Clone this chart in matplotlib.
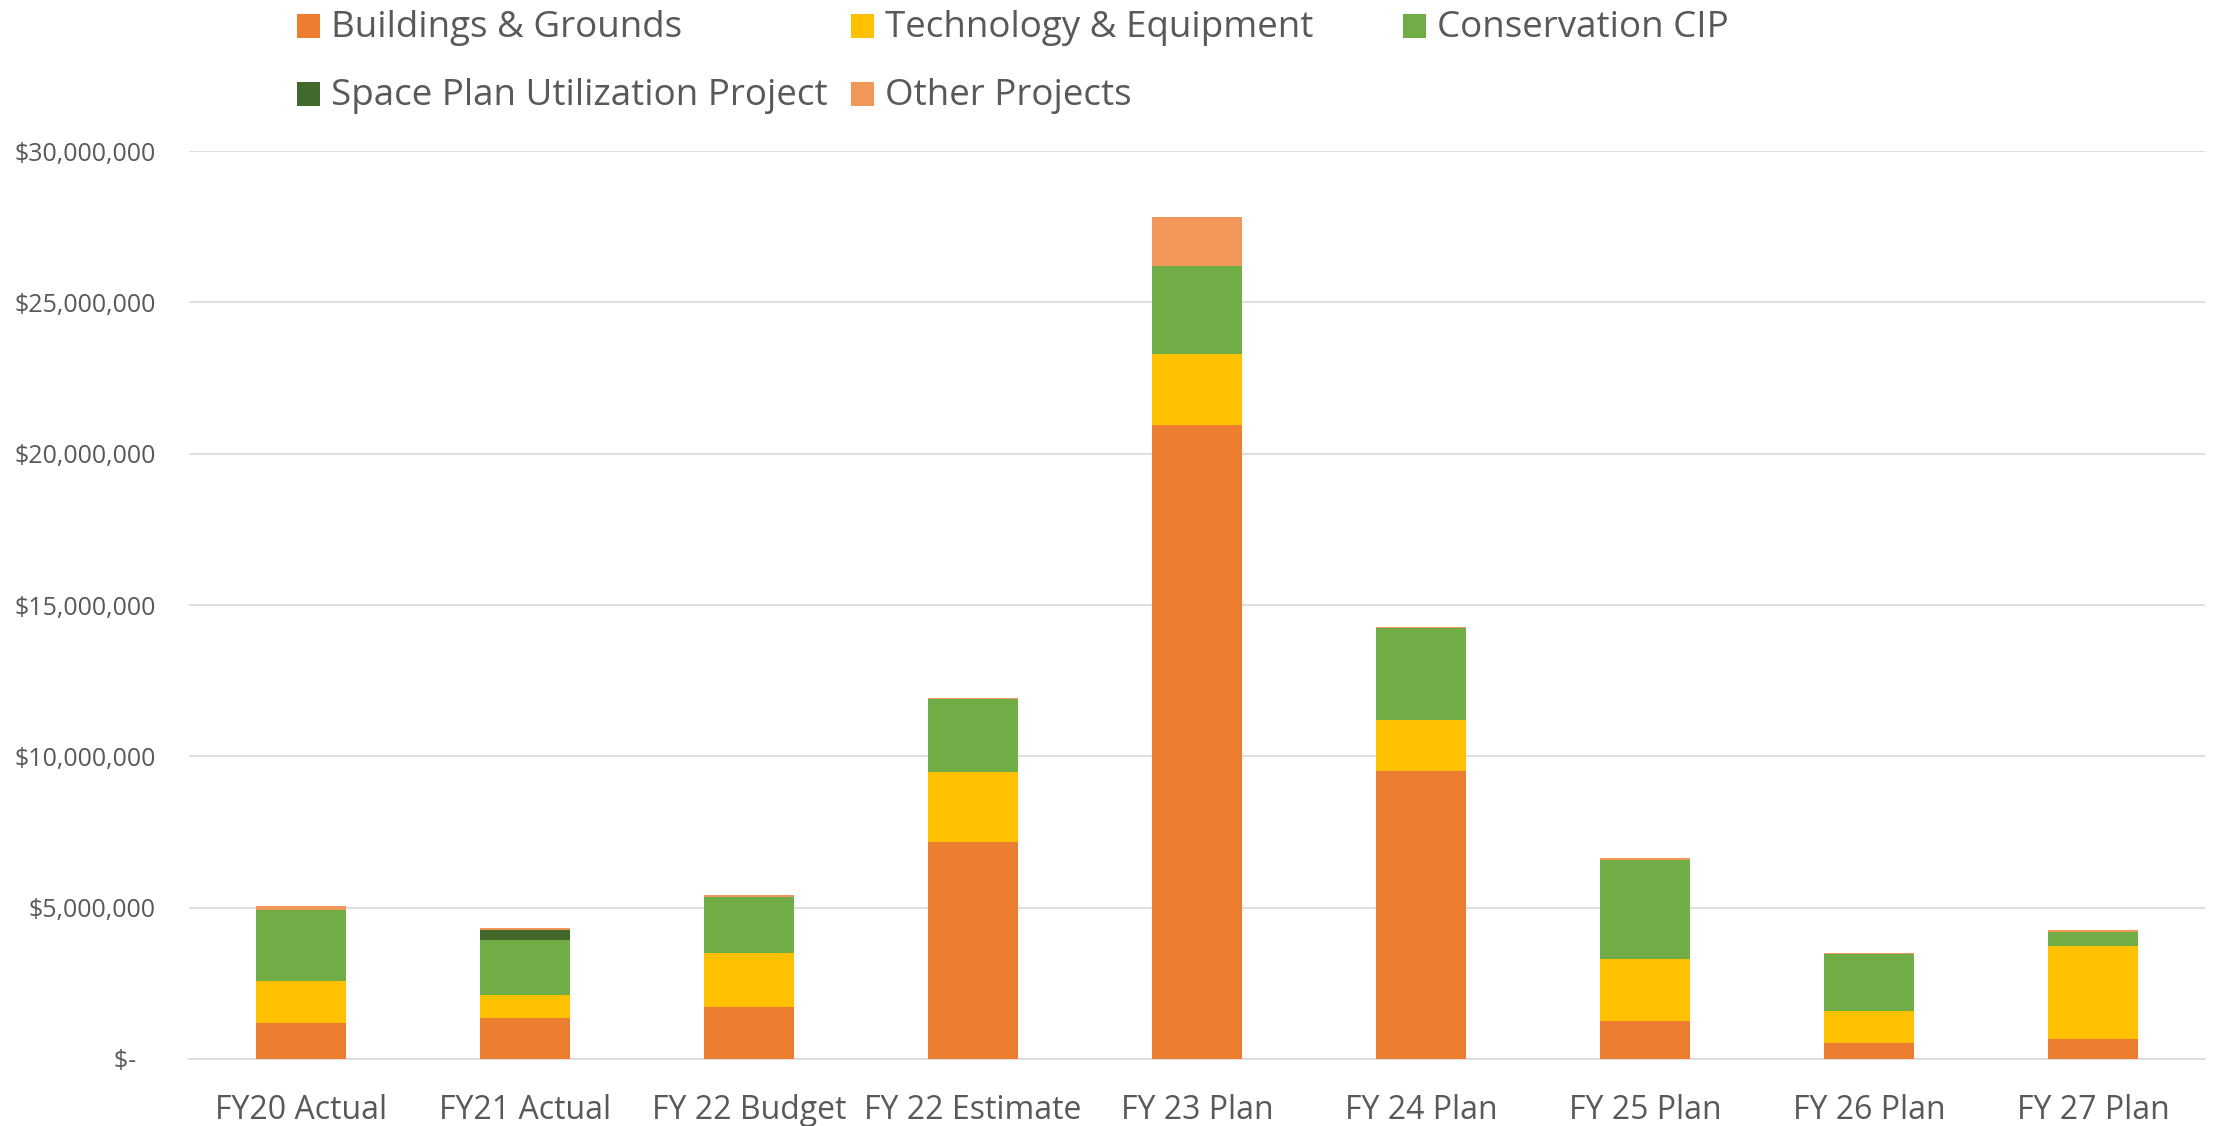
import numpy as np
import matplotlib
matplotlib.use("Agg")
import matplotlib.pyplot as plt
from matplotlib.patches import Rectangle
from matplotlib.ticker import FuncFormatter

plt.rcParams['font.family'] = ['Open Sans', 'DejaVu Sans']

# Capital spending by fiscal year (millions of dollars)
years = ["FY20 Actual", "FY21 Actual", "FY 22 Budget", "FY 22 Estimate", "FY 23 Plan",
         "FY 24 Plan", "FY 25 Plan", "FY 26 Plan", "FY 27 Plan"]
buildings = [1.19, 1.34, 1.72, 7.17, 20.95, 9.52, 1.24, 0.54, 0.65]
technology = [1.40, 0.79, 1.77, 2.32, 2.34, 1.68, 2.05, 1.06, 3.07]
conservation = [2.33, 1.81, 1.87, 2.41, 2.90, 3.03, 3.30, 1.86, 0.49]
space_plan = [0, 0.32, 0, 0, 0, 0, 0, 0, 0]
other = [0.12, 0.06, 0.07, 0.03, 1.64, 0.04, 0.05, 0.04, 0.05]

series = [
    ("Buildings & Grounds", buildings, "#ED7D31"),
    ("Technology & Equipment", technology, "#FFC000"),
    ("Conservation CIP", conservation, "#70AD47"),
    ("Space Plan Utilization Project", space_plan, "#43682B"),
    ("Other Projects", other, "#F1975A"),
]

text_color = "#595959"
grid_color = "#D9D9D9"

W, H = 2216, 1126
fig = plt.figure(figsize=(W / 100, H / 100), dpi=100)
ax = fig.add_axes([189 / W, 1 - 1059 / H, (2205 - 189) / W, (1059 - 151) / H])

x = np.arange(len(years))
bottom = np.zeros(len(years))
for name, vals, color in series:
    v = np.array(vals) * 1e6
    ax.bar(x, v, width=0.4, bottom=bottom, color=color, linewidth=0, zorder=3)
    bottom += v

ax.set_xlim(-0.5, len(years) - 0.5)
ax.set_ylim(0, 30e6)
ax.set_yticks(np.arange(0, 30e6 + 1, 5e6))


def money(v, pos):
    if v == 0:
        return "$-   "
    return "${:,.0f}".format(v)


ax.yaxis.set_major_formatter(FuncFormatter(money))
ax.set_xticks(x)
ax.set_xticklabels(years)
ax.grid(axis='y', color=grid_color, linewidth=1.2, zorder=0)
for s in ["top", "right", "left"]:
    ax.spines[s].set_visible(False)
ax.spines["bottom"].set_color(grid_color)
ax.spines["bottom"].set_linewidth(1.2)
ax.tick_params(axis='both', length=0, colors=text_color)
ax.tick_params(axis='y', labelsize=18, pad=24)
ax.tick_params(axis='x', labelsize=23, pad=25)

# legend drawn in figure pixels, fixed-width columns
col_x = [297, 851, 1403]
row_y = [26, 94]
for i, (name, vals, color) in enumerate(series):
    r, c = divmod(i, 3)
    mx, my = col_x[c], row_y[r]
    fig.patches.append(Rectangle((mx / W, 1 - (my + 12) / H), 23 / W, 24 / H,
                                 transform=fig.transFigure, color=color, linewidth=0))
    fig.text((mx + 34) / W, 1 - (my + 2) / H, name, fontsize=26.5, color=text_color,
             va='center', ha='left')

fig.savefig("out.png", dpi=100, facecolor="white")
